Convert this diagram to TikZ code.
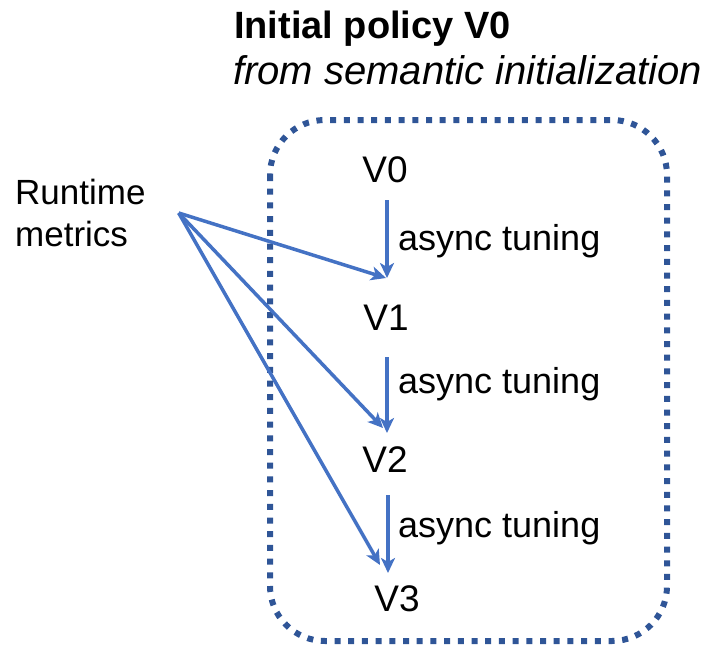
\documentclass[tikz,border=0pt]{standalone}
\usepackage{fontspec}
\setmainfont{Liberation Sans}
\usetikzlibrary{calc,arrows.meta}
\definecolor{arrowblue}{HTML}{4472C4}
\definecolor{framedark}{HTML}{2F5597}
\tikzset{
  lbl/.style={inner sep=0pt, anchor=base, font=\fontsize{37}{40}\selectfont},
  tune/.style={inner sep=0pt, anchor=base west, font=\fontsize{36}{40}\selectfont},
  conn/.style={draw=arrowblue, line width=3.5pt, -{Stealth[length=15pt,width=14pt,inset=4pt]}},
  framebox/.style={draw=framedark, line width=6pt, dash pattern=on 6pt off 7.7pt, rounded corners=55pt}
}
\begin{document}
\begin{tikzpicture}[x=1pt,y=-1pt]
\useasboundingbox (0,0) rectangle (709,645);
% frame
\draw[framebox] (270,120) rectangle (667,641);
% titles
\node[inner sep=0pt, anchor=base west, font=\bfseries\fontsize{38}{42}\selectfont] (title) at (234,38) {Initial policy V0};
\node[inner sep=0pt, anchor=base west, font=\itshape\fontsize{40}{44}\selectfont] (subtitle) at (233,84) {from semantic initialization};
% versions
\node[lbl] (V0) at (385,182) {V0};
\node[lbl] (V1) at (386,330) {V1};
\node[lbl] (V2) at (385,472) {V2};
\node[lbl] (V3) at (397,611) {V3};
% tuning labels
\node[tune] (t1) at (398,250) {async tuning};
\node[tune] (t2) at (398,393) {async tuning};
\node[tune] (t3) at (398,537) {async tuning};
% runtime metrics
\node[inner sep=0pt, anchor=west, align=left, font=\fontsize{35}{42}\selectfont] (RM) at (15,213) {Runtime\\metrics};
\coordinate (src) at ($(RM.east)+(33,0)$);
% tuning arrows
\draw[conn] ($(V0.base)+(2,18)$) -- ($(V1.base)+(1,-52)$);
\draw[conn] ($(V1.base)+(1,27)$) -- ($(V2.base)+(2,-39)$);
\draw[conn] ($(V2.base)+(3,23)$) -- ($(V3.base)+(-9,-38)$);
% metric arrows
\draw[conn] (src) -- ($(V1.base)+(0,-52)$);
\draw[conn] (src) -- ($(V2.base)+(-2,-44)$);
\draw[conn] (src) -- ($(V3.base)+(-17,-46)$);
\end{tikzpicture}
\end{document}
